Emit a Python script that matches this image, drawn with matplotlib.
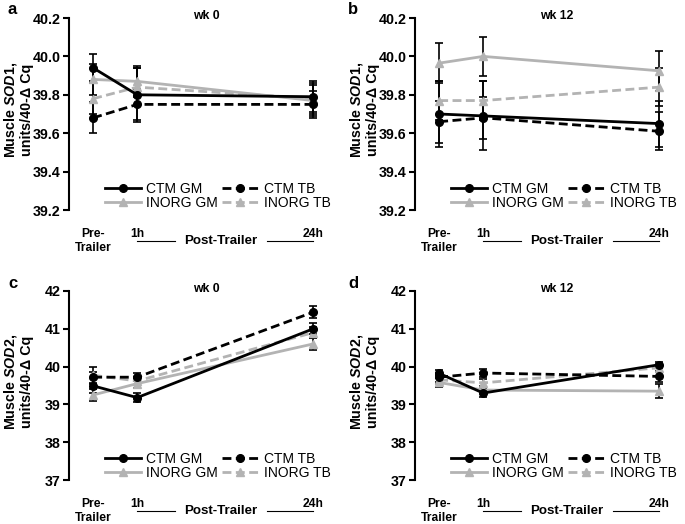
import matplotlib
matplotlib.use("Agg")
import matplotlib.pyplot as plt
import matplotlib.transforms as mtransforms

plt.rcParams['font.family'] = ['Liberation Sans', 'DejaVu Sans']
plt.rcParams['mathtext.fontset'] = 'custom'
plt.rcParams['mathtext.it'] = 'Liberation Sans:italic:bold'
plt.rcParams['mathtext.rm'] = 'Liberation Sans:bold'

# ---- data ----
timepoints = ["Pre-\nTrailer", "1h", "24h"]
x_pos = [0, 1, 5]
series = ["CTM GM", "CTM TB", "INORG GM", "INORG TB"]

# panel a: SOD1 wk 0
a_ctm_gm = [39.94, 39.80, 39.79]
a_ctm_tb = [39.68, 39.75, 39.75]
a_inorg_gm = [39.88, 39.87, 39.77]
a_inorg_tb = [39.78, 39.84, 39.78]
a_err_ctm_gm = [0.07, 0.14, 0.08]
a_err_ctm_tb = [0.08, 0.08, 0.07]
a_err_inorg_gm = [0.08, 0.08, 0.08]
a_err_inorg_tb = [0.08, 0.10, 0.08]

# panel b: SOD1 wk 12
b_ctm_gm = [39.70, 39.69, 39.65]
b_ctm_tb = [39.66, 39.68, 39.61]
b_inorg_gm = [39.965, 40.00, 39.925]
b_inorg_tb = [39.77, 39.77, 39.84]
b_err_ctm_gm = [0.17, 0.18, 0.12]
b_err_ctm_tb = [0.11, 0.11, 0.10]
b_err_inorg_gm = [0.105, 0.10, 0.105]
b_err_inorg_tb = [0.10, 0.10, 0.10]

# panel c: SOD2 wk 0
c_ctm_gm = [39.49, 39.18, 41.00]
c_ctm_tb = [39.72, 39.72, 41.44]
c_inorg_gm = [39.25, 39.55, 40.60]
c_inorg_tb = [39.77, 39.62, 40.90]
c_err_ctm_gm = [0.20, 0.12, 0.15]
c_err_ctm_tb = [0.15, 0.10, 0.15]
c_err_inorg_gm = [0.15, 0.12, 0.15]
c_err_inorg_tb = [0.22, 0.10, 0.15]

# panel d: SOD2 wk 12
d_ctm_gm = [39.82, 39.30, 40.05]
d_ctm_tb = [39.72, 39.83, 39.74]
d_inorg_gm = [39.58, 39.38, 39.35]
d_inorg_tb = [39.65, 39.57, 39.97]
d_err_ctm_gm = [0.08, 0.10, 0.08]
d_err_ctm_tb = [0.12, 0.10, 0.15]
d_err_inorg_gm = [0.12, 0.10, 0.18]
d_err_inorg_tb = [0.12, 0.10, 0.10]

panels = [
    dict(letter="a", title="wk 0", gene="SOD1", ylim=(39.2, 40.2), yticks=[39.2, 39.4, 39.6, 39.8, 40.0, 40.2], fmt="{:.1f}",
         vals=[a_ctm_gm, a_ctm_tb, a_inorg_gm, a_inorg_tb],
         errs=[a_err_ctm_gm, a_err_ctm_tb, a_err_inorg_gm, a_err_inorg_tb],
         box=(69, 18, 210), title_x=206),
    dict(letter="b", title="wk 12", gene="SOD1", ylim=(39.2, 40.2), yticks=[39.2, 39.4, 39.6, 39.8, 40.0, 40.2], fmt="{:.1f}",
         vals=[b_ctm_gm, b_ctm_tb, b_inorg_gm, b_inorg_tb],
         errs=[b_err_ctm_gm, b_err_ctm_tb, b_err_inorg_gm, b_err_inorg_tb],
         box=(415, 18, 210), title_x=557),
    dict(letter="c", title="wk 0", gene="SOD2", ylim=(37, 42), yticks=[37, 38, 39, 40, 41, 42], fmt="{:.0f}",
         vals=[c_ctm_gm, c_ctm_tb, c_inorg_gm, c_inorg_tb],
         errs=[c_err_ctm_gm, c_err_ctm_tb, c_err_inorg_gm, c_err_inorg_tb],
         box=(69, 291, 480), title_x=206),
    dict(letter="d", title="wk 12", gene="SOD2", ylim=(37, 42), yticks=[37, 38, 39, 40, 41, 42], fmt="{:.0f}",
         vals=[d_ctm_gm, d_ctm_tb, d_inorg_gm, d_inorg_tb],
         errs=[d_err_ctm_gm, d_err_ctm_tb, d_err_inorg_gm, d_err_inorg_tb],
         box=(415, 291, 480), title_x=557),
]

W, H = 685, 524
fig = plt.figure(figsize=(W / 100, H / 100), dpi=100)

GRAY = "#b3b3b3"
styles = [
    dict(color="black", ls="-", marker="o", zorder=4),
    dict(color="black", ls=(0, (3.2, 1.6)), marker="o", zorder=4),
    dict(color=GRAY, ls="-", marker="^", zorder=3),
    dict(color=GRAY, ls=(0, (3.2, 1.6)), marker="^", zorder=3),
]

xmin, xmax = -0.55, 5.45
unit_px = 44

for p in panels:
    left, top, bottom = p["box"]
    width = (xmax - xmin) * unit_px
    ax = fig.add_axes([left / W, 1 - bottom / H, width / W, (bottom - top) / H])
    ax.set_xlim(xmin, xmax)
    ax.set_ylim(*p["ylim"])
    for spine in ["top", "right", "bottom"]:
        ax.spines[spine].set_visible(False)
    ax.spines["left"].set_linewidth(1.5)
    ax.set_yticks(p["yticks"])
    ax.set_yticklabels([p["fmt"].format(v) for v in p["yticks"]], fontsize=10.3, fontweight="bold")
    ax.tick_params(axis="y", direction="out", length=4, width=1.5, pad=2)
    ax.set_xticks(x_pos)
    ax.set_xticklabels(timepoints, fontsize=8.7, fontweight="bold", linespacing=1.2)
    ax.tick_params(axis="x", length=0, pad=13)
    for lab in ax.get_xticklabels():
        lab.set_verticalalignment("top")

    handles = {}
    for s, v, e, st in zip(series, p["vals"], p["errs"], styles):
        ax.errorbar(x_pos, v, yerr=e, fmt="none", ecolor="black", elinewidth=1.2,
                    capsize=3, capthick=1.2, zorder=2)
        ln, = ax.plot(x_pos, v, color=st["color"], ls=st["ls"], lw=2.0,
                      marker=st["marker"], markersize=5.5, markeredgecolor=st["color"],
                      zorder=st["zorder"], label=s, clip_on=False)
        handles[s] = ln

    order = ["CTM GM", "INORG GM", "CTM TB", "INORG TB"]
    ax.legend([handles[s] for s in order], order, ncol=2, loc="lower left",
              bbox_to_anchor=(0.135, 0.0), frameon=False, fontsize=10.0,
              handlelength=2.6, handletextpad=0.4, columnspacing=0.3,
              labelspacing=0.0, borderpad=0, borderaxespad=0)

    # Post-Trailer annotation
    trans = mtransforms.blended_transform_factory(ax.transData, ax.transAxes)
    yax = -31 / (bottom - top)
    ax.plot([1.0, 1.85], [yax, yax], color="black", lw=0.8, transform=trans, clip_on=False)
    ax.plot([3.95, 5.0], [yax, yax], color="black", lw=0.8, transform=trans, clip_on=False)
    ax.text(2.9, yax, "Post-Trailer", transform=trans, ha="center", va="center",
            fontsize=9.6, fontweight="bold")

    # y label
    ycen = (top + bottom) / 2 - 4
    fig.text((left - 51) / W, 1 - ycen / H,
             "Muscle $\\mathit{" + p["gene"] + "}$,\nunits/40-Δ Cq",
             rotation=90, ha="center", va="center", fontsize=10.3, fontweight="bold",
             multialignment="center", linespacing=1.05)

    # title
    fig.text(p["title_x"] / W, 1 - 16 / H - (top - 18) / H, p["title"], ha="center", va="center",
             fontsize=8.8, fontweight="bold")
    # panel letter
    lx = 8 if left < 300 else 348
    fig.text(lx / W, 1 - (top - 8) / H, p["letter"], ha="left", va="center",
             fontsize=12, fontweight="bold")

fig.savefig("out.png", dpi=100)
